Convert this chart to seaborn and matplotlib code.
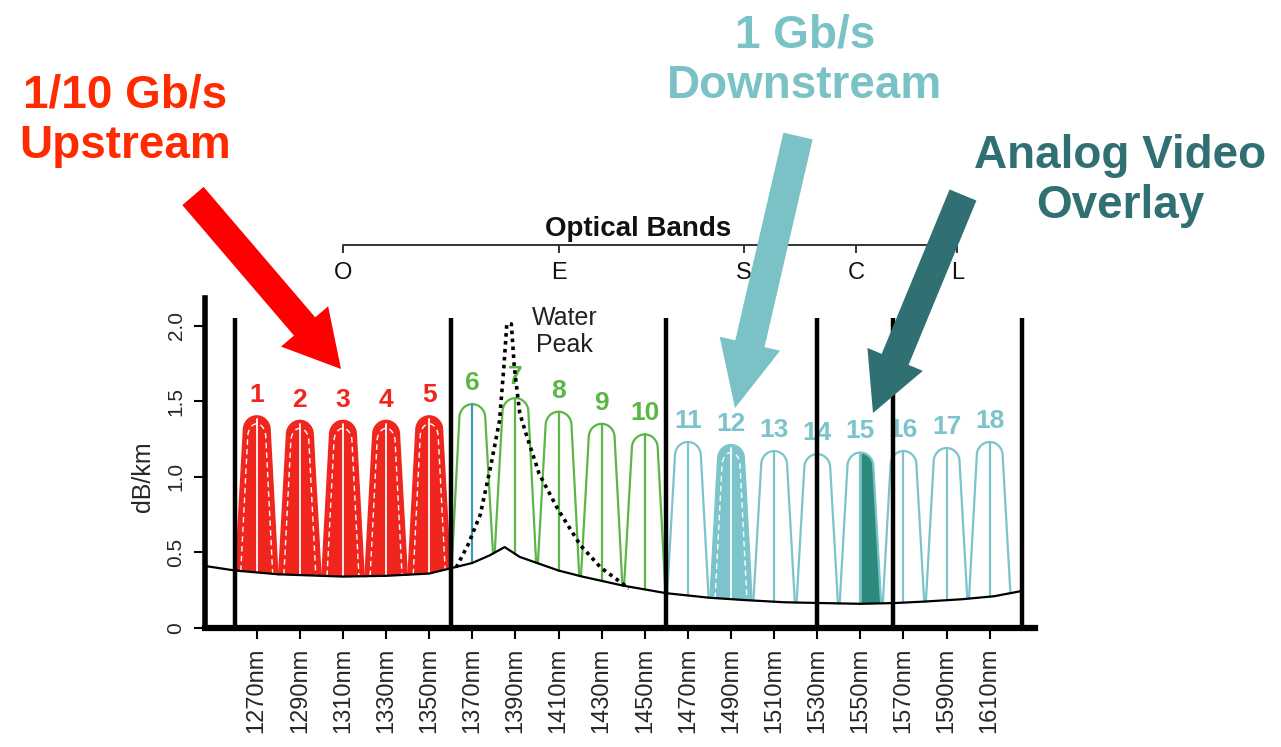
import numpy as np
import pandas as pd
import matplotlib.pyplot as plt
import matplotlib.patches as mpatches
import matplotlib.transforms as mtransforms
import seaborn as sns

# CWDM channel grid
channel_nm = [1270, 1290, 1310, 1330, 1350, 1370, 1390, 1410, 1430, 1450,
              1470, 1490, 1510, 1530, 1550, 1570, 1590, 1610]
channel_num = [str(i) for i in range(1, 19)]
channel_peak = [1.40, 1.37, 1.37, 1.37, 1.40, 1.48, 1.52, 1.43, 1.35, 1.28,
                1.23, 1.21, 1.17, 1.15, 1.16, 1.17, 1.19, 1.23]
channel_group = ['up'] * 5 + ['mid'] * 5 + ['down'] * 8

# fibre attenuation baseline (dB/km)
fiber_nm = [1246, 1260, 1280, 1300, 1310, 1330, 1350, 1360, 1370, 1378, 1385,
            1392, 1400, 1410, 1421, 1440, 1460, 1480, 1496, 1515, 1532, 1550,
            1566, 1580, 1597, 1612, 1625]
fiber_db = [0.41, 0.38, 0.355, 0.345, 0.34, 0.345, 0.36, 0.395, 0.43, 0.48, 0.535,
            0.47, 0.43, 0.38, 0.34, 0.28, 0.23, 0.20, 0.185, 0.17, 0.165, 0.16,
            0.165, 0.175, 0.19, 0.21, 0.245]

# water peak (dotted)
water_nm = [1362.5, 1368, 1373.7, 1378.4, 1382.6, 1384.6, 1386, 1388.1, 1389.5,
            1392, 1395, 1401, 1409.5, 1420, 1429.5, 1440, 1442.5]
water_db = [0.40, 0.55, 0.75, 1.06, 1.37, 1.72, 2.01, 2.01, 1.72,
            1.42, 1.28, 1.02, 0.79, 0.55, 0.40, 0.29, 0.26]

band_edge_nm = [1260, 1360, 1460, 1530, 1565, 1625]
band_name = ['O', 'E', 'S', 'C', 'L']
band_label_nm = [1310, 1410, 1496, 1548, 1595]

ytick_vals = [0, 0.5, 1.0, 1.5, 2.0]
ytick_text = ['0', '0.5', '1.0', '1.5', '2.0']

RED = '#f0261e'
GREEN = '#5cb646'
CYAN = '#7cc4cb'
TEAL = '#2e8a7d'
group_color = {'up': RED, 'mid': GREEN, 'down': CYAN}

HW, CAP_W, CAP_H = 9.6, 6.0, 0.09


def baseline(x):
    return np.interp(x, fiber_nm, fiber_db)


def channel_shape(c, peak, hw=HW, cw=CAP_W, ch=CAP_H, n=40):
    t = np.linspace(np.pi, 0, n)
    cap_x = c + cw * np.cos(t)
    cap_y = (peak - ch) + ch * np.sin(t)
    lx = np.linspace(c - hw, c - cw, n)
    rx = np.linspace(c + cw, c + hw, n)
    fl = (lx - (c - hw)) / (hw - cw)
    fr = ((c + hw) - rx) / (hw - cw)
    ly = baseline(lx) + fl * (peak - ch - baseline(lx))
    ry = baseline(rx) + fr * (peak - ch - baseline(rx))
    return (np.concatenate([lx, cap_x[1:-1], rx]),
            np.concatenate([ly, cap_y[1:-1], ry]))


sns.set_theme(style='white')
plt.rcParams['font.family'] = ['Liberation Sans', 'DejaVu Sans']

fig = plt.figure(figsize=(12.81, 7.47), dpi=100)
ax = fig.add_axes([205 / 1281, 119 / 747, 830 / 1281, 428 / 747])
ax.set_xlim(1246, 1631)
ax.set_ylim(0, 2.83)

# channel outlines through seaborn
rows = []
for c, p, g, k in zip(channel_nm, channel_peak, channel_group, channel_num):
    x, y = channel_shape(c, p)
    rows.append(pd.DataFrame({'nm': x, 'db': y, 'channel': k, 'group': g}))
outline = pd.concat(rows, ignore_index=True)
sns.lineplot(data=outline, x='nm', y='db', units='channel', estimator=None,
             sort=False, hue='group', palette=group_color, legend=False,
             lw=1.6, ax=ax, zorder=3)

for c, p, g, k in zip(channel_nm, channel_peak, channel_group, channel_num):
    x, y = channel_shape(c, p)
    b = baseline(c)
    col = group_color[g]
    if g == 'up' or k == '12':
        ax.fill_between(x, baseline(x), y, color=col, lw=0, zorder=2)
        xi, yi = channel_shape(c, p - 0.05, hw=HW - 2.2, cw=CAP_W - 1.8)
        ax.plot(xi, yi, color='white', lw=1, ls=(0, (4, 3)), zorder=3.5)
        ax.plot([c, c], [b, p - 0.02], color='white', lw=1.3, zorder=3.5)
    else:
        line_col = '#3a9bb0' if k == '6' else col
        ax.plot([c, c], [b, p], color=line_col, lw=1.6, zorder=3)
    if k == '15':
        m = x >= c
        ax.fill_between(x[m], baseline(x[m]), y[m], color=TEAL, lw=0, zorder=2)
    ax.text(c, p + 0.14, k, ha='center', va='center', fontsize=19,
            fontweight='bold', color=col, zorder=3)

sns.lineplot(x=fiber_nm, y=fiber_db, color='black', lw=1.6, ax=ax, zorder=4)
sns.lineplot(x=water_nm, y=water_db, color='black', lw=2.6, sort=False,
             ax=ax, zorder=4, linestyle=(0, (1, 1.2)))

ax.vlines(band_edge_nm, 0, 2.05, color='black', lw=3.2, zorder=5)

# optical band bracket
ax.plot([band_label_nm[0], band_label_nm[-1]], [2.535, 2.535],
        color='#333333', lw=1.4, clip_on=False)
ax.vlines(band_label_nm, 2.48, 2.535, color='#333333', lw=1.4)
for nm, name in zip(band_label_nm, band_name):
    ax.text(nm, 2.35, name, ha='center', va='center', fontsize=17, color='#111111')
ax.text(1447, 2.64, 'Optical Bands', ha='center', va='center', fontsize=20,
        fontweight='bold', color='#111111')
ax.text(1412.7, 1.96, 'Water\nPeak', ha='center', va='center', fontsize=18,
        color='#222222', linespacing=1.15)

# axes styling
ax.set_xticks(channel_nm)
ax.set_xticklabels([f'{w}nm' for w in channel_nm], rotation=90, fontsize=17)
ax.set_yticks(ytick_vals)
ax.set_yticklabels(ytick_text, rotation=90, fontsize=15, va='center')
ax.tick_params(axis='both', length=8, width=1.5, color='black', pad=6,
               bottom=True, left=True)
ax.set_xlabel('')
ax.set_ylabel('dB/km', fontsize=18)
ax.yaxis.set_label_coords(-0.06, 1.0 / 2.83)
for s in ['top', 'right']:
    ax.spines[s].set_visible(False)
ax.spines['left'].set_linewidth(4)
ax.spines['left'].set_color('black')
ax.spines['left'].set_bounds(0, 2.18)
ax.spines['bottom'].set_linewidth(4.5)
ax.spines['bottom'].set_color('black')
ax.grid(False)

# callout arrows (figure pixels, origin bottom-left)
H = 747
arrows = [((193, 196), (341, 369), 28, 62, 56, '#ff0000'),
          ((798, 136), (735, 408), 30, 62, 66, '#7ac2c6'),
          ((963, 195), (873, 413), 29, 60, 58, '#306f72')]
for (x0, y0), (x1, y1), w, hw, hl, col in arrows:
    arr = mpatches.FancyArrow(x0, H - y0, x1 - x0, y0 - y1, width=w,
                              head_width=hw, head_length=hl,
                              length_includes_head=True, color=col, lw=0,
                              transform=mtransforms.IdentityTransform())
    fig.add_artist(arr)

callouts = [(125, 121, '1/10 Gb/s\nUpstream', '#ff2a00'),
            (805, 61, '1 Gb/s\nDownstream', '#7ac2c6'),
            (1120, 181, 'Analog Video\nOverlay', '#306f72')]
for px, py, txt, col in callouts:
    fig.text(px / 1281, 1 - py / H, txt, ha='center', va='center', fontsize=33,
             fontweight='bold', color=col, linespacing=1.2)

fig.savefig('out.png', dpi=100)
